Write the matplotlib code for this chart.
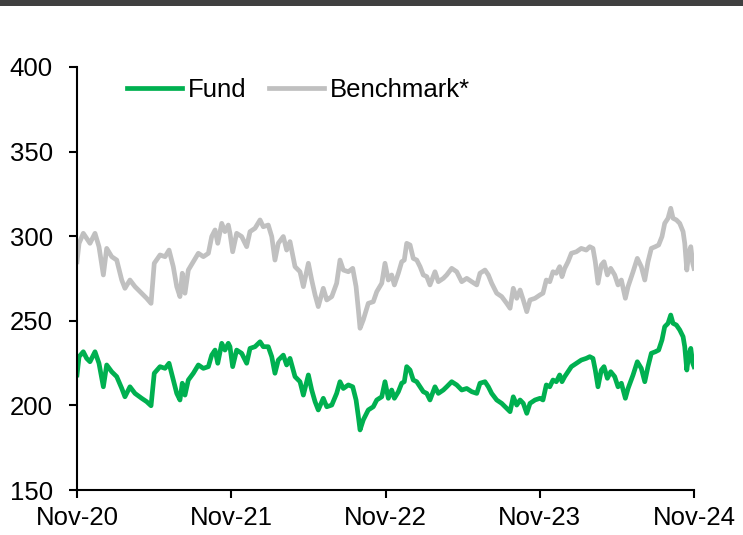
import matplotlib
matplotlib.use("Agg")
import matplotlib.pyplot as plt
from matplotlib.patches import Rectangle

plt.rcParams['font.family'] = ['Liberation Sans', 'DejaVu Sans']

# months since Nov-2020
months = [0.0, 0.16, 0.49, 0.75, 1.01, 1.40, 1.71, 2.05, 2.31, 2.70, 3.09, 3.48, 3.73, 4.12, 4.51,
          5.03, 5.42, 5.76, 6.01, 6.46, 6.85, 7.16, 7.49, 7.76, 8.01, 8.19, 8.40, 8.66, 9.05, 9.44,
          9.83, 10.22, 10.48, 10.74, 10.95, 11.26, 11.51, 11.77,
          11.90, 12.11, 12.42, 12.81, 13.20, 13.46, 13.85, 14.24, 14.49, 14.88, 15.15, 15.40, 15.66,
          16.05, 16.31, 16.57, 16.96, 17.35, 17.61, 18.00, 18.26, 18.52, 18.77, 19.16, 19.43, 19.82,
          20.20, 20.46, 20.72, 21.11, 21.45, 21.71, 21.89, 22.02, 22.27, 22.66, 23.05, 23.32, 23.71, 23.96,
          24.22, 24.48, 24.69, 25.00, 25.26, 25.46, 25.65, 25.91, 26.16, 26.43, 26.69, 26.94, 27.21,
          27.46, 27.85, 28.11, 28.50, 28.76, 29.15, 29.54, 29.93, 30.32, 30.71, 31.10, 31.35, 31.74,
          32.00, 32.26, 32.65, 33.04, 33.43, 33.69, 33.94, 34.21, 34.47, 34.72, 34.99, 35.24, 35.63, 36.02,
          36.25, 36.51, 36.78, 37.03, 37.29, 37.55, 37.73, 37.94, 38.20, 38.46, 38.85, 39.23, 39.62,
          39.89, 40.14, 40.32, 40.53, 40.79, 41.00, 41.26, 41.52, 41.83, 42.09, 42.35, 42.66, 42.87,
          43.26, 43.59, 43.90, 44.17, 44.42, 44.68, 44.99, 45.25, 45.51, 45.72, 45.98, 46.19, 46.37,
          46.63, 46.89, 47.15, 47.28, 47.44, 47.59, 47.75, 47.90, 48.0]

benchmark = [284.9, 295.8, 301.7, 298.8, 295.8, 301.7, 293.8, 277.1, 292.8, 287.9, 285.9, 274.1, 269.2, 274.1, 270.2,
             266.3, 263.3, 260.3, 284.0, 288.9, 287.9, 291.8, 282.0, 270.2, 264.3, 278.1, 266.3, 280.0, 284.9, 289.9,
             287.9, 289.9, 299.8, 303.7, 295.8, 307.6, 302.7, 306.6,
             301.7, 290.8, 301.7, 299.8, 293.8, 302.7, 304.7, 309.6, 305.6, 306.6, 299.8, 285.9, 295.8,
             299.8, 291.8, 296.8, 282.0, 279.0, 270.2, 284.0, 274.1, 265.3, 258.4, 269.2, 262.3, 264.3,
             272.2, 285.9, 280.0, 279.0, 281.0, 270.2, 256.4, 245.6, 250.5, 260.3, 261.3, 267.2, 272.2, 284.0,
             274.1, 277.1, 271.2, 278.1, 284.9, 285.9, 295.8, 294.8, 286.9, 285.9, 282.0, 277.1, 276.1,
             271.2, 279.0, 273.1, 275.1, 277.1, 281.0, 279.0, 273.1, 275.1, 273.1, 271.2, 278.1, 280.0,
             277.1, 272.2, 266.3, 264.3, 260.3, 257.4, 269.2, 263.3, 268.2, 262.3, 255.4, 262.3, 263.3, 265.3,
             266.3, 274.1, 273.1, 279.0, 278.1, 282.0, 276.1, 281.0, 284.9, 289.9, 290.8, 292.8, 291.8,
             293.8, 292.8, 284.9, 272.2, 283.0, 284.9, 277.1, 281.0, 277.1, 271.2, 274.1, 263.3, 270.2,
             279.0, 286.9, 282.0, 274.1, 284.9, 292.8, 293.8, 294.8, 299.8, 307.6, 310.6, 316.5, 310.6,
             309.6, 307.6, 302.7, 295.8, 280.0, 289.9, 293.8, 284.0, 281.0]

fund = [218.0, 228.8, 231.7, 227.8, 225.8, 231.7, 224.9, 211.0, 223.9, 219.9, 217.0, 210.1, 205.1, 211.0, 207.1,
        204.2, 202.2, 199.8, 219.0, 222.9, 221.9, 224.9, 215.0, 207.1, 203.2, 213.1, 206.1, 215.0, 219.0, 223.9,
        221.9, 222.9, 229.7, 232.7, 224.9, 236.7, 232.7, 236.7,
        234.7, 222.9, 232.7, 230.8, 224.9, 233.7, 234.7, 237.6, 234.7, 234.7, 228.8, 219.0, 226.8,
        229.7, 223.9, 227.8, 217.0, 214.0, 206.1, 218.0, 209.1, 202.2, 197.3, 204.2, 199.2, 200.2,
        207.1, 214.0, 210.0, 212.1, 211.0, 203.2, 193.3, 185.5, 191.4, 197.3, 199.2, 203.2, 205.1, 214.0,
        204.2, 209.1, 204.2, 208.1, 213.1, 214.0, 222.9, 220.9, 215.0, 214.0, 211.0, 208.1, 207.1,
        203.2, 211.0, 207.1, 209.1, 211.0, 214.0, 212.1, 209.1, 210.0, 208.1, 207.1, 213.1, 214.0,
        211.0, 207.1, 203.2, 201.2, 198.3, 196.3, 205.1, 200.2, 203.2, 201.2, 195.3, 201.2, 203.2, 204.2,
        203.2, 212.1, 211.0, 215.0, 214.0, 218.0, 214.0, 217.0, 219.9, 222.9, 224.9, 226.8, 227.8,
        228.8, 227.8, 220.9, 211.0, 220.9, 222.9, 216.0, 219.9, 217.0, 211.0, 213.1, 204.2, 210.0,
        218.0, 225.8, 221.9, 214.0, 222.9, 230.8, 231.7, 232.7, 238.7, 246.5, 248.5, 253.4, 248.5,
        247.5, 244.6, 240.6, 234.7, 220.9, 229.7, 233.7, 224.9, 222.9]

xtick_pos = [0, 12, 24, 36, 48]
xtick_labels = ['Nov-20', 'Nov-21', 'Nov-22', 'Nov-23', 'Nov-24']
ytick_vals = [150, 200, 250, 300, 350, 400]

W, H = 743, 535
fig = plt.figure(figsize=(W / 100, H / 100), dpi=100)
ax = fig.add_axes([77 / W, 1 - 490 / H, (694 - 77) / W, (490 - 67) / H])

ax.plot(months, benchmark, color='#C0C0C0', lw=3.4, label='Benchmark*', solid_joinstyle='round')
ax.plot(months, fund, color='#00B050', lw=3.4, label='Fund', solid_joinstyle='round')

ax.set_xlim(0, 48)
ax.set_ylim(150, 400)
ax.set_xticks(xtick_pos)
ax.set_xticklabels(xtick_labels)
ax.set_yticks(ytick_vals)
for s in ['top', 'right']:
    ax.spines[s].set_visible(False)
for s in ['left', 'bottom']:
    ax.spines[s].set_linewidth(1.5)
    ax.spines[s].set_color('black')
ax.tick_params(axis='both', direction='out', length=5.5, width=1.5, labelsize=18.5, colors='black')
ax.tick_params(axis='y', pad=12)
ax.tick_params(axis='x', pad=6)

handles, labels = ax.get_legend_handles_labels()
order = [1, 0]
leg = fig.legend([handles[i] for i in order], [labels[i] for i in order],
                 loc='center left', bbox_to_anchor=(127 / W, 1 - 90 / H),
                 ncol=2, frameon=False, fontsize=18.5, borderpad=0, borderaxespad=0,
                 handlelength=2.15, handletextpad=0.2, columnspacing=0.9)

fig.add_artist(Rectangle((0, 1 - 6 / H), 1, 6 / H, transform=fig.transFigure,
                         facecolor='#404040', edgecolor='none'))

fig.savefig('out.png', dpi=100)
